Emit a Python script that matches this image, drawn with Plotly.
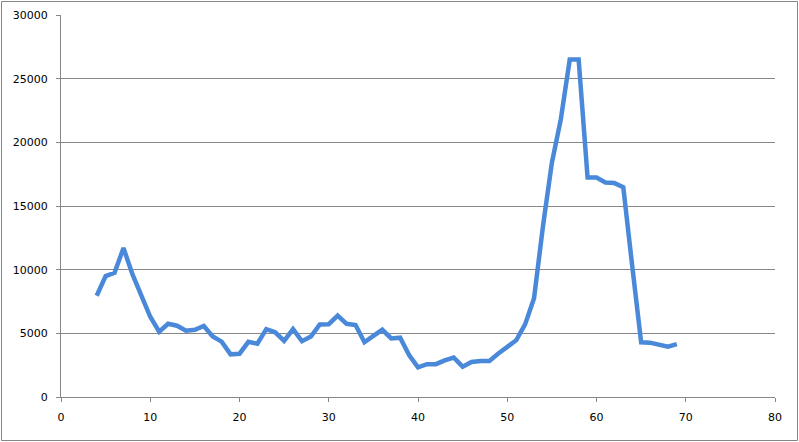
import plotly.graph_objects as go

x_vals = list(range(4, 70))
y_vals = [7950, 9500, 9750, 11700, 9650, 7950, 6300, 5130, 5750, 5600,
          5200, 5280, 5580, 4750, 4350, 3350, 3400, 4330, 4180, 5330,
          5080, 4400, 5330, 4380, 4750, 5700, 5720, 6400, 5750, 5650,
          4300, 4800, 5280, 4600, 4660, 3300, 2330, 2580, 2580, 2880,
          3100, 2380, 2750, 2830, 2830, 3420, 3950, 4450, 5700, 7750,
          13400, 18400, 21800, 26500, 26500, 17230, 17230, 16850, 16800, 16480,
          10300, 4300, 4270, 4120, 3950, 4150]

x_ticks = [0, 10, 20, 30, 40, 50, 60, 70, 80]
y_ticks = [0, 5000, 10000, 15000, 20000, 25000, 30000]

W, H = 799, 442
ML, MR, MT, MB = 61, 24, 15, 45
pw, ph = W - ML - MR, H - MT - MB

fig = go.Figure()
fig.add_trace(go.Scatter(x=x_vals, y=y_vals, mode="lines",
                         line=dict(color="#4A89D9", width=4.5),
                         showlegend=False, hoverinfo="skip"))

grid = "#868686"
font = dict(family="DejaVu Sans", size=11, color="#000000")
fig.update_layout(
    width=W, height=H,
    margin=dict(l=ML, r=MR, t=MT, b=MB, pad=0, autoexpand=False),
    plot_bgcolor="white", paper_bgcolor="white",
    font=font,
    xaxis=dict(range=[0, 80], tickvals=x_ticks, ticktext=[str(v) for v in x_ticks],
               showgrid=False, zeroline=False, showline=True, linecolor=grid, linewidth=1,
               ticks="outside", ticklen=4, tickcolor=grid, tickwidth=1, automargin=False,
               tickfont=font, fixedrange=True, ticklabelstandoff=6),
    yaxis=dict(range=[0, 30000], tickvals=y_ticks, ticktext=[str(v) for v in y_ticks],
               showgrid=True, gridcolor=grid, gridwidth=1, zeroline=False,
               showline=True, linecolor=grid, linewidth=1, automargin=False,
               ticks="outside", ticklen=4, tickcolor=grid, tickwidth=1,
               tickfont=font, fixedrange=True, ticklabelstandoff=6),
    shapes=[dict(type="rect", xref="paper", yref="paper",
                 x0=(1.5 - ML) / pw, x1=(797.5 - ML) / pw,
                 y0=(MT + ph - 440.5) / ph, y1=(MT + ph - 1.5) / ph,
                 line=dict(color=grid, width=1), fillcolor="rgba(0,0,0,0)", layer="below")],
)

fig.write_html("out.html", config={"displayModeBar": False},
               post_script="document.body.style.margin='0px';document.body.style.overflow='hidden';")
